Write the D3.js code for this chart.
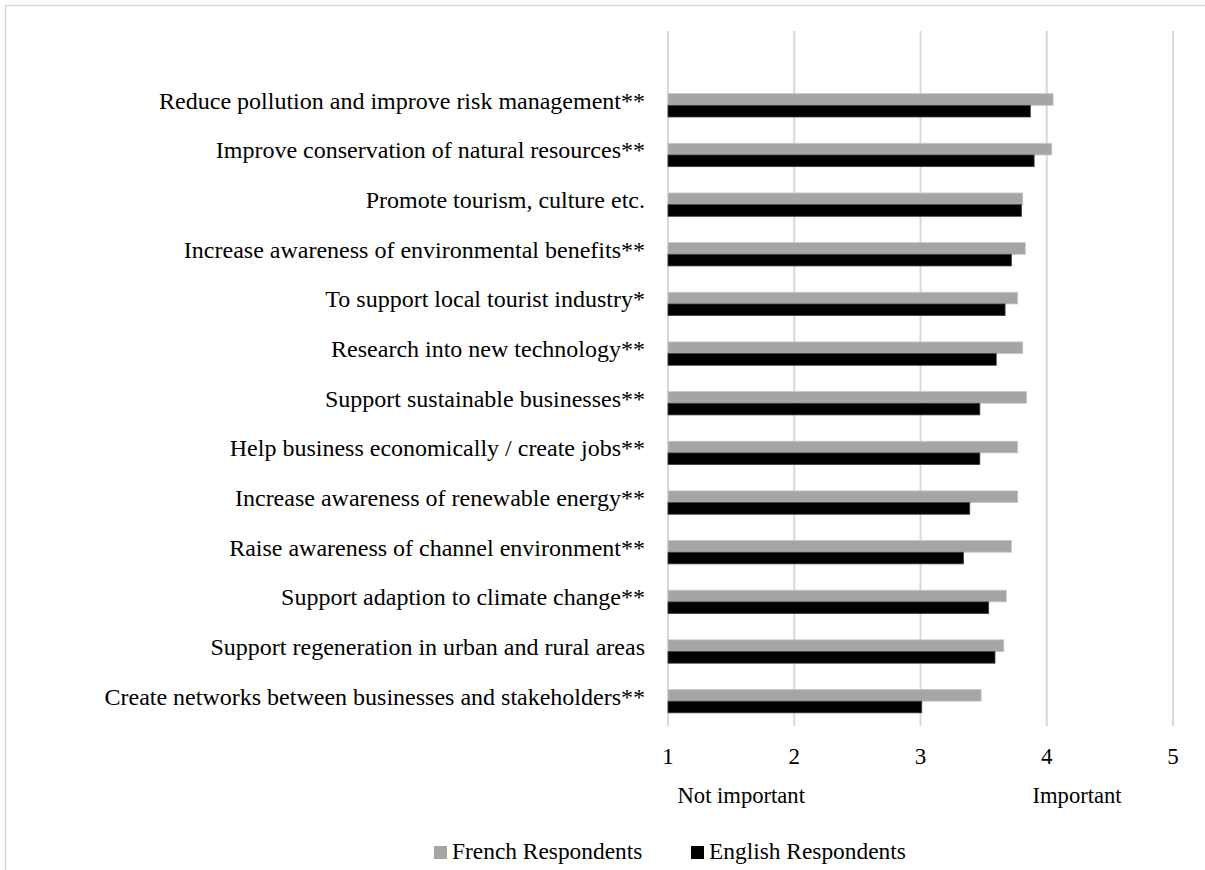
<!DOCTYPE html>
<html>
<head>
<meta charset="utf-8">
<script src="https://cdn.jsdelivr.net/npm/d3@7"></script>
<style>
  body { margin: 0; background: #fff; }
  text { font-family: "Liberation Serif", "Times New Roman", serif; fill: #000; }
</style>
</head>
<body>
<div id="chart"></div>
<script>
const width = 1205;
const height = 870;

// categories, top to bottom
const categories = [
  'Reduce pollution and improve risk management**',
  'Improve conservation of natural resources**',
  'Promote tourism, culture etc.',
  'Increase awareness of environmental benefits**',
  'To support local tourist industry*',
  'Research into new technology**',
  'Support sustainable businesses**',
  'Help business economically / create jobs**',
  'Increase awareness of renewable energy**',
  'Raise awareness of channel environment**',
  'Support adaption to climate change**',
  'Support regeneration in urban and rural areas',
  'Create networks between businesses and stakeholders**'
];

const french = [4.05, 4.04, 3.81, 3.83, 3.77, 3.81, 3.84, 3.77, 3.77, 3.72, 3.68, 3.66, 3.48];
const english = [3.87, 3.90, 3.80, 3.72, 3.67, 3.60, 3.47, 3.47, 3.39, 3.34, 3.54, 3.59, 3.01];

const ticks = [1, 2, 3, 4, 5];
const seriesNames = ['French Respondents', 'English Respondents'];
const colors = ['#a5a5a5', '#000000'];

const svg = d3.select('#chart')
  .append('svg')
    .attr('width', width)
    .attr('height', height);

// chart border (only top and left visible in the crop)
svg.append('rect')
  .attr('x', 5.5)
  .attr('y', 5.5)
  .attr('width', width + 20)
  .attr('height', height + 20)
  .attr('fill', 'none')
  .attr('stroke', '#d9d9d9')
  .attr('stroke-width', 1.5);

const x = d3.scaleLinear().domain([1, 5]).range([668, 1173]);
const y = d3.scaleBand().domain(categories).range([80.5, 726]).paddingInner(0.53).paddingOuter(0.265);

const gridTop = 31;
const gridBottom = 726;

// gridlines
svg.append('g')
  .selectAll('line')
  .data(ticks)
  .join('line')
    .attr('x1', d => x(d))
    .attr('x2', d => x(d))
    .attr('y1', gridTop)
    .attr('y2', gridBottom)
    .attr('stroke', '#d9d9d9')
    .attr('stroke-width', 2);

// bars
const barH = y.bandwidth() / 2;
const bars = svg.append('g');

bars.selectAll('.fr')
  .data(categories)
  .join('rect')
    .attr('class', 'fr')
    .attr('x', x(1))
    .attr('y', d => y(d))
    .attr('width', (d, i) => x(french[i]) - x(1))
    .attr('height', barH)
    .attr('fill', colors[0])
    .attr('stroke', '#c8c8c8')
    .attr('stroke-width', 0.8);

bars.selectAll('.en')
  .data(categories)
  .join('rect')
    .attr('class', 'en')
    .attr('x', x(1))
    .attr('y', d => y(d) + barH)
    .attr('width', (d, i) => x(english[i]) - x(1))
    .attr('height', barH)
    .attr('fill', colors[1])
    .attr('stroke', '#404040')
    .attr('stroke-width', 0.8);

// category labels
svg.append('g')
  .selectAll('text')
  .data(categories)
  .join('text')
    .attr('x', x(1) - 23)
    .attr('y', d => y(d) + y.bandwidth() / 2 - 5)
    .attr('dy', '0.35em')
    .attr('text-anchor', 'end')
    .style('font-size', '24px')
    .text(d => d);

// x tick labels
svg.append('g')
  .selectAll('text')
  .data(ticks)
  .join('text')
    .attr('x', d => x(d))
    .attr('y', 764)
    .attr('text-anchor', 'middle')
    .style('font-size', '23px')
    .text(d => d);

// scale annotations
svg.append('text')
  .attr('x', x(1.58))
  .attr('y', 803)
  .attr('text-anchor', 'middle')
  .style('font-size', '22.6px')
  .text('Not important');

svg.append('text')
  .attr('x', x(4.24))
  .attr('y', 803)
  .attr('text-anchor', 'middle')
  .style('font-size', '22.6px')
  .text('Important');

// legend
const legendX = [434, 691];
const legend = svg.append('g');
seriesNames.forEach((name, i) => {
  legend.append('rect')
    .attr('x', legendX[i])
    .attr('y', 846)
    .attr('width', 13)
    .attr('height', 13)
    .attr('fill', colors[i]);
  legend.append('text')
    .attr('x', legendX[i] + 18)
    .attr('y', 859)
    .style('font-size', '23.4px')
    .text(name);
});
</script>
</body>
</html>
